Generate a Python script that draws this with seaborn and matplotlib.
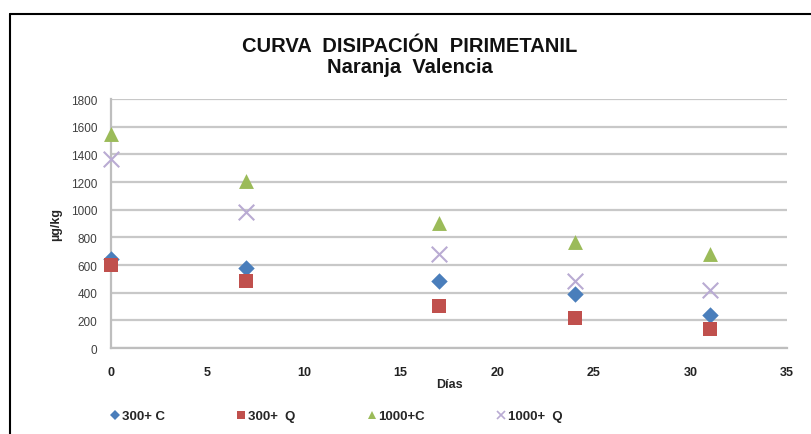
import matplotlib
matplotlib.use("Agg")
import matplotlib.pyplot as plt
import seaborn as sns
import pandas as pd
from matplotlib.lines import Line2D

dias = [0, 7, 17, 24, 31]
s300_C = [645, 578, 481, 392, 241]
s300_Q = [597, 481, 306, 217, 140]
s1000_C = [1545, 1210, 905, 765, 681]
s1000_Q = [1367, 982, 676, 481, 416]
series_names = ["300+ C", "300+  Q", "1000+C", "1000+  Q"]
title = "CURVA  DISIPACIÓN  PIRIMETANIL"
subtitle = "Naranja  Valencia"

rows = []
for name, vals in zip(series_names, [s300_C, s300_Q, s1000_C, s1000_Q]):
    for d, v in zip(dias, vals):
        rows.append({"Días": d, "valor": v, "serie": name})
df = pd.DataFrame(rows)

sns.set_theme(style="white")
plt.rcParams["font.family"] = ["Liberation Sans", "DejaVu Sans"]

colors = {"300+ C": "#4A7EBB", "300+  Q": "#C0504D", "1000+C": "#9BBB59", "1000+  Q": "#B9ABD3"}
markers = {"300+ C": "D", "300+  Q": "s", "1000+C": "^", "1000+  Q": "x"}
sizes = {"300+ C": 70, "300+  Q": 115, "1000+C": 115, "1000+  Q": 125}

fig = plt.figure(figsize=(8.11, 4.35), dpi=100)
ax = fig.add_axes([0.1369, 0.1977, 0.8335, 0.5724])

for name in series_names:
    sub = df[df["serie"] == name]
    sns.scatterplot(data=sub, x="Días", y="valor", ax=ax, color=colors[name],
                    marker=markers[name], s=sizes[name], clip_on=False,
                    linewidth=1.5 if markers[name] == "x" else 0, legend=False, zorder=3)

ax.set_xlim(0, 35)
ax.set_ylim(0, 1800)
ax.set_xticks(range(0, 36, 5))
ax.set_yticks(range(0, 1801, 200))
ax.yaxis.grid(True, color="#C8C8C8", linewidth=1.6)
ax.xaxis.grid(False)
for side in ["top", "right"]:
    ax.spines[side].set_visible(False)
for side in ["left", "bottom"]:
    ax.spines[side].set_color("#BEBEBE")
    ax.spines[side].set_linewidth(1.6)
ax.tick_params(axis="y", labelsize=8.5, colors="#404040", length=0, pad=10)
ax.tick_params(axis="x", labelsize=9, length=0, pad=13, labelcolor="#222222")
for t in ax.get_xticklabels():
    t.set_fontweight("bold")
ax.set_xlabel("Días", fontsize=9, fontweight="bold", labelpad=0)
ax.set_ylabel("µg/kg", fontsize=9, fontweight="bold", labelpad=6)

fig.text(0.505, 1 - 46 / 435, title, ha="center", va="center", fontsize=14.5, fontweight="bold", color="#111111")
fig.text(0.505, 1 - 68 / 435, subtitle, ha="center", va="center", fontsize=14.5, fontweight="bold", color="#111111")

handles = []
for name in series_names:
    handles.append(Line2D([], [], linestyle="none", marker=markers[name], color=colors[name],
                          markersize=6 if markers[name] != "D" else 5,
                          markeredgewidth=1.2 if markers[name] == "x" else 0))
leg = fig.legend(handles, series_names, loc="center left", bbox_to_anchor=(0.119, 1 - 417 / 435),
                 ncol=4, frameon=False, handletextpad=0.0, columnspacing=5.3, handlelength=1.0,
                 prop={"weight": "bold", "size": 9.5})

# outer border lines (top and left)
fig.add_artist(Line2D([10 / 811, 1.0], [1 - 15 / 435, 1 - 15 / 435], transform=fig.transFigure, color="black", linewidth=1.5))
fig.add_artist(Line2D([10 / 811, 10 / 811], [0, 1 - 15 / 435], transform=fig.transFigure, color="black", linewidth=1.5))

fig.savefig("out.png", dpi=100)
